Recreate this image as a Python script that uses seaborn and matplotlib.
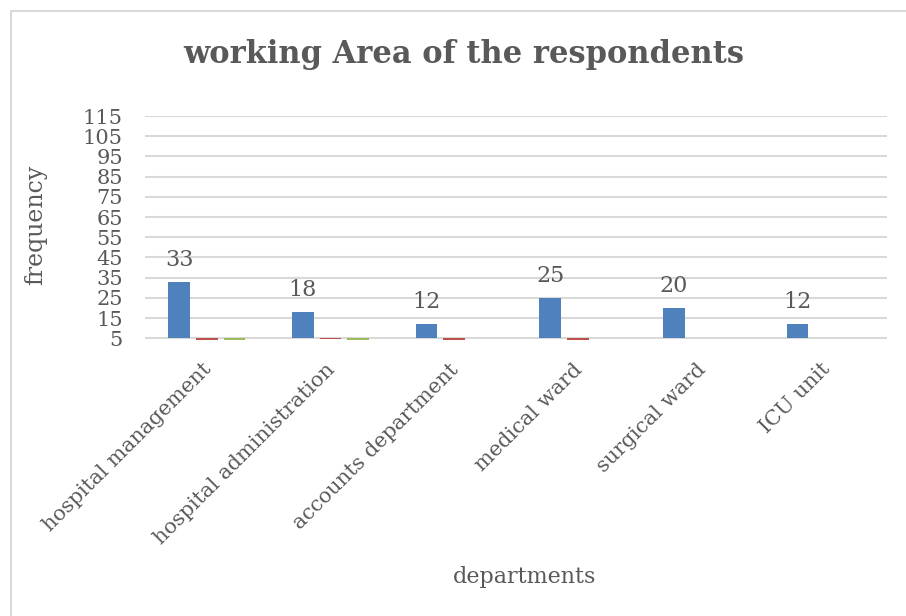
import numpy as np
import pandas as pd
import matplotlib
matplotlib.use("Agg")
import matplotlib.pyplot as plt
from matplotlib.lines import Line2D
from matplotlib.transforms import ScaledTranslation
import seaborn as sns

# Department categories and frequencies per series
departments = ["hospital management", "hospital administration", "accounts department",
               "medical ward", "surgical ward", "ICU unit"]
series_names = ["Series1", "Series2", "Series3"]
series1 = [33, 18, 12, 25, 20, 12]
series2 = [4.0, 4.6, 4.0, 4.0, np.nan, np.nan]
series3 = [4.0, 4.0, np.nan, np.nan, np.nan, np.nan]
y_ticks = [5, 15, 25, 35, 45, 55, 65, 75, 85, 95, 105, 115]

baseline = 5
colors = ["#4F81BD", "#C0504D", "#9BBB59"]
text_color = "#595959"
grid_color = "#D9D9D9"

sns.set_theme(style="white")
plt.rcParams["font.family"] = ["DejaVu Serif"]

rows = []
for name, vals in zip(series_names, [series1, series2, series3]):
    for dept, v in zip(departments, vals):
        rows.append({"department": dept, "series": name, "value": v})
df = pd.DataFrame(rows)
df["height"] = df["value"] - baseline

fig = plt.figure(figsize=(9.06, 6.16), dpi=100)
ax = fig.add_axes([145 / 906, 1 - 340.3 / 616, (887 - 145) / 906, (340.3 - 116) / 616])

sns.barplot(data=df, x="department", y="height", hue="series", order=departments,
            hue_order=series_names, palette=colors, width=0.67, gap=0.215,
            errorbar=None, legend=False, bottom=baseline, ax=ax, saturation=1,
            linewidth=0)

ax.set_ylim(4.0, 115)
ax.set_xlim(-0.5, len(departments) - 0.5)
ax.set_yticks(y_ticks)
ax.set_yticklabels([str(t) for t in y_ticks])
for t in y_ticks:
    ax.axhline(t, color=grid_color, lw=1.5, zorder=0)
for s in ax.spines.values():
    s.set_visible(False)
ax.tick_params(axis="y", length=0, pad=16, labelsize=15, labelcolor=text_color)
ax.tick_params(axis="x", length=0, pad=14, labelsize=15, labelcolor=text_color)
shift = ScaledTranslation(-5 / 100, 0, fig.dpi_scale_trans)
for lab in ax.get_xticklabels():
    lab.set_rotation(45)
    lab.set_ha("right")
    lab.set_rotation_mode("anchor")
    lab.set_transform(lab.get_transform() + shift)

ax.set_xlabel("departments", fontsize=16, color=text_color)
ax.xaxis.set_label_coords((525 - 145) / 742, (340.3 - 566) / 224.3)
ax.set_ylabel("frequency", fontsize=17, color=text_color)
ax.yaxis.set_label_coords((47 - 145) / 742, (340.3 - 225) / 224.3)

# Value labels on the first series
blue = ax.containers[0]
ax.bar_label(blue, labels=[str(v) for v in series1], padding=8, fontsize=16,
             color=text_color)

fig.text(464 / 906, 1 - 55 / 616, "working Area of the respondents", ha="center",
         va="center", fontsize=22, fontweight="bold", color=text_color)

# Chart-area frame
fig.add_artist(Line2D([11 / 906, 11 / 906], [0, 1 - 11 / 616], color=grid_color, lw=1.5))
fig.add_artist(Line2D([11 / 906, 1], [1 - 11 / 616, 1 - 11 / 616], color=grid_color, lw=1.5))

fig.savefig("out.png", dpi=100, facecolor="white")
